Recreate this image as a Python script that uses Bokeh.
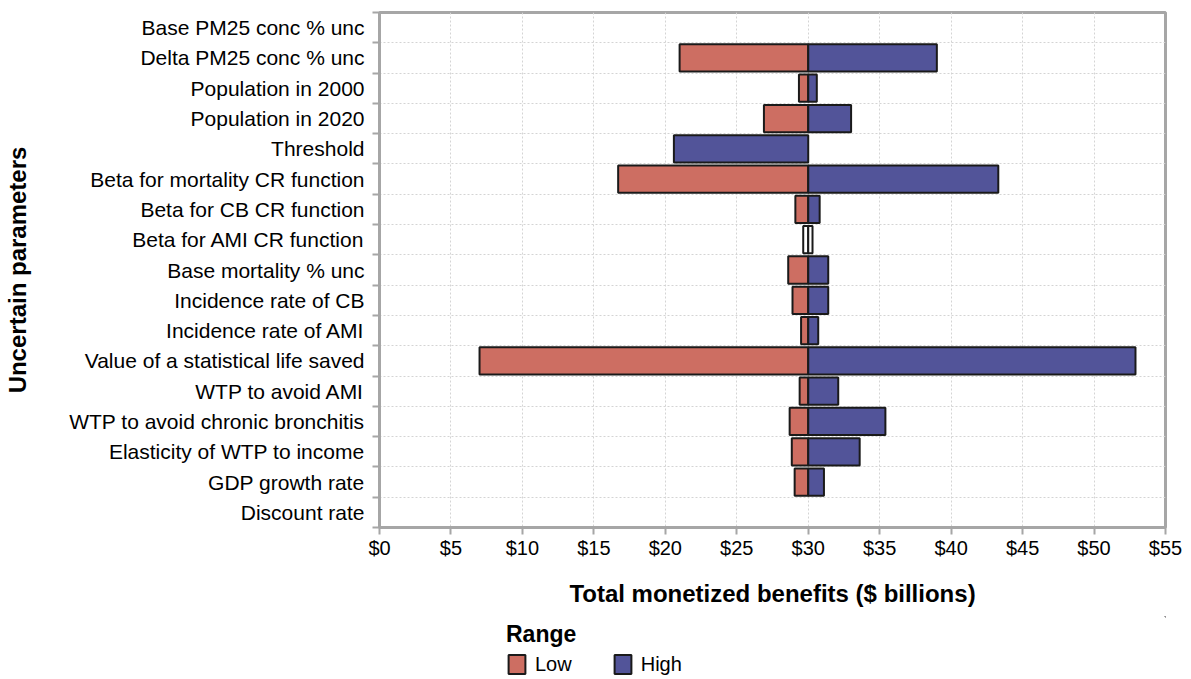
from bokeh.plotting import figure
from bokeh.layouts import column
from bokeh.models import (Range1d, FixedTicker, NumeralTickFormatter, Legend, LegendItem,
                          ColumnDataSource, CDSView, IndexFilter)
from bokeh.embed import file_html
from bokeh.resources import INLINE

# ---------------- data ----------------
categories = [
    "Base PM25 conc % unc",
    "Delta PM25 conc % unc",
    "Population in 2000",
    "Population in 2020",
    "Threshold",
    "Beta for mortality CR function",
    "Beta for CB CR function",
    "Beta for AMI CR function",
    "Base mortality % unc",
    "Incidence rate of CB",
    "Incidence rate of AMI",
    "Value of a statistical life saved",
    "WTP to avoid AMI",
    "WTP to avoid chronic bronchitis",
    "Elasticity of WTP to income",
    "GDP growth rate",
    "Discount rate",
]
low_values = [None, 21.0, 29.35, 26.9, None, 16.7, 29.1, 29.65, 28.6, 28.9, 29.5,
              7.0, 29.4, 28.7, 28.85, 29.05, None]
high_values = [None, 39.0, 30.6, 33.0, 20.6, 43.3, 30.8, 30.3, 31.4, 31.4, 30.7,
               52.9, 32.1, 35.4, 33.6, 31.1, None]
baseline = 30.0
hollow_rows = ["Beta for AMI CR function"]
x_ticks = [0, 5, 10, 15, 20, 25, 30, 35, 40, 45, 50, 55]
series_names = ["Low", "High"]

RED = "#CD6E62"
BLUE = "#525499"
EDGE = "#1a1a1a"
GRID = "#d4d4d4"
AXIS_GREY = "#a6a6a6"
FONT = "Liberation Sans"

n = len(categories)
centers = [i + 0.5 for i in range(n)]


def rows(vals, keep_hollow):
    """Indices of the rows that have a value and the wanted hollow state."""
    return [i for i, (c, v) in enumerate(zip(categories, vals))
            if v is not None and ((c in hollow_rows) == keep_hollow)]


def make_source(vals, keep_hollow):
    idx = rows(vals, keep_hollow)
    return ColumnDataSource(dict(y=[centers[i] for i in idx],
                                 left=[baseline] * len(idx),
                                 right=[vals[i] for i in idx]))


W = 1183
p = figure(width=W, height=616, output_backend="svg", toolbar_location=None,
           x_range=Range1d(0, 55), y_range=Range1d(n, 0),
           min_border_left=379, min_border_right=W - 1165, min_border_top=12,
           min_border_bottom=89)
p.background_fill_color = "white"
p.border_fill_color = "white"
p.outline_line_color = AXIS_GREY
p.outline_line_width = 3

src_low = make_source(low_values, False)
src_high = make_source(high_values, False)
src_hl = make_source(low_values, True)
src_hh = make_source(high_values, True)

p.hbar(y="y", left="left", right="right", height=0.9, source=src_low,
       fill_color=RED, line_color=EDGE, line_width=2)
p.hbar(y="y", left="left", right="right", height=0.9, source=src_high,
       fill_color=BLUE, line_color=EDGE, line_width=2)
p.hbar(y="y", left="left", right="right", height=0.9, source=src_hl,
       fill_color="white", line_color=EDGE, line_width=2)
p.hbar(y="y", left="left", right="right", height=0.9, source=src_hh,
       fill_color="white", line_color=EDGE, line_width=2)

# x axis
xa = p.xaxis[0]
xa.ticker = FixedTicker(ticks=x_ticks)
xa.formatter = NumeralTickFormatter(format="$0")
xa.axis_line_color = AXIS_GREY
xa.axis_line_width = 3
xa.major_tick_line_color = AXIS_GREY
xa.major_tick_line_width = 2
xa.major_tick_out = 7
xa.major_tick_in = 0
xa.minor_tick_line_color = None
xa.major_label_text_font = FONT
xa.major_label_text_font_size = "20px"
xa.major_label_text_color = "black"
xa.major_label_standoff = 2
xa.axis_label = "Total monetized benefits ($ billions)"
xa.axis_label_text_font = FONT
xa.axis_label_text_font_size = "24px"
xa.axis_label_text_font_style = "bold"
xa.axis_label_text_color = "black"
xa.axis_label_standoff = 18

# y axis
ya = p.yaxis[0]
ya.ticker = FixedTicker(ticks=centers, minor_ticks=list(range(n + 1)))
ya.major_label_overrides = {c: lab for c, lab in zip(centers, categories)}
ya.axis_line_color = AXIS_GREY
ya.axis_line_width = 3
ya.major_tick_line_color = None
ya.major_tick_out = 0
ya.major_tick_in = 0
ya.minor_tick_line_color = AXIS_GREY
ya.minor_tick_line_width = 2
ya.minor_tick_out = 7
ya.minor_tick_in = 0
ya.major_label_text_font = FONT
ya.major_label_text_font_size = "21px"
ya.major_label_text_color = "black"
ya.major_label_standoff = 8
ya.axis_label = "Uncertain parameters"
ya.axis_label_text_font = FONT
ya.axis_label_text_font_size = "24px"
ya.axis_label_text_font_style = "bold"
ya.axis_label_text_color = "black"
ya.axis_label_standoff = 35

# grids
p.xgrid.grid_line_color = GRID
p.xgrid.grid_line_dash = "2 2"
p.xgrid.grid_line_width = 1
p.ygrid.grid_line_color = None
p.ygrid.minor_grid_line_color = GRID
p.ygrid.minor_grid_line_dash = "2 2"
p.ygrid.minor_grid_line_width = 1

# ---------------- legend strip ----------------
lg = figure(width=W, height=63, output_backend="svg", toolbar_location=None,
            x_axis_location=None, y_axis_location=None,
            x_range=Range1d(-1000, -999), y_range=Range1d(-1000, -999),
            min_border=0)
lg.outline_line_color = None
lg.background_fill_color = "white"
lg.border_fill_color = "white"
lg.xgrid.grid_line_color = None
lg.ygrid.grid_line_color = None
# legend swatches: same series, filtered to a single row and lying far outside
# this strip's visible range (only the legend glyphs are seen)
d_low = lg.hbar(y="y", left="left", right="right", height=0.9, source=src_low,
                view=CDSView(filter=IndexFilter([0])),
                fill_color=RED, line_color=EDGE, line_width=2)
d_high = lg.hbar(y="y", left="left", right="right", height=0.9, source=src_high,
                 view=CDSView(filter=IndexFilter([0])),
                 fill_color=BLUE, line_color=EDGE, line_width=2)

legend = Legend(items=[LegendItem(label=series_names[0], renderers=[d_low]),
                       LegendItem(label=series_names[1], renderers=[d_high])],
                orientation="horizontal", title="Range",
                location=(127, 3))
legend.title_text_font = FONT
legend.title_text_font_size = "23px"
legend.title_text_font_style = "bold"
legend.title_text_color = "black"
legend.label_text_font = FONT
legend.label_text_font_size = "20px"
legend.label_text_color = "black"
legend.glyph_width = 21
legend.glyph_height = 24
legend.border_line_color = None
legend.background_fill_alpha = 0
legend.spacing = 40
legend.padding = 0
legend.margin = 0
legend.label_standoff = 8
legend.title_standoff = 4
lg.add_layout(legend, "center")

layout = column(p, lg, spacing=0)
open("out.html", "w").write(file_html(layout, INLINE))
